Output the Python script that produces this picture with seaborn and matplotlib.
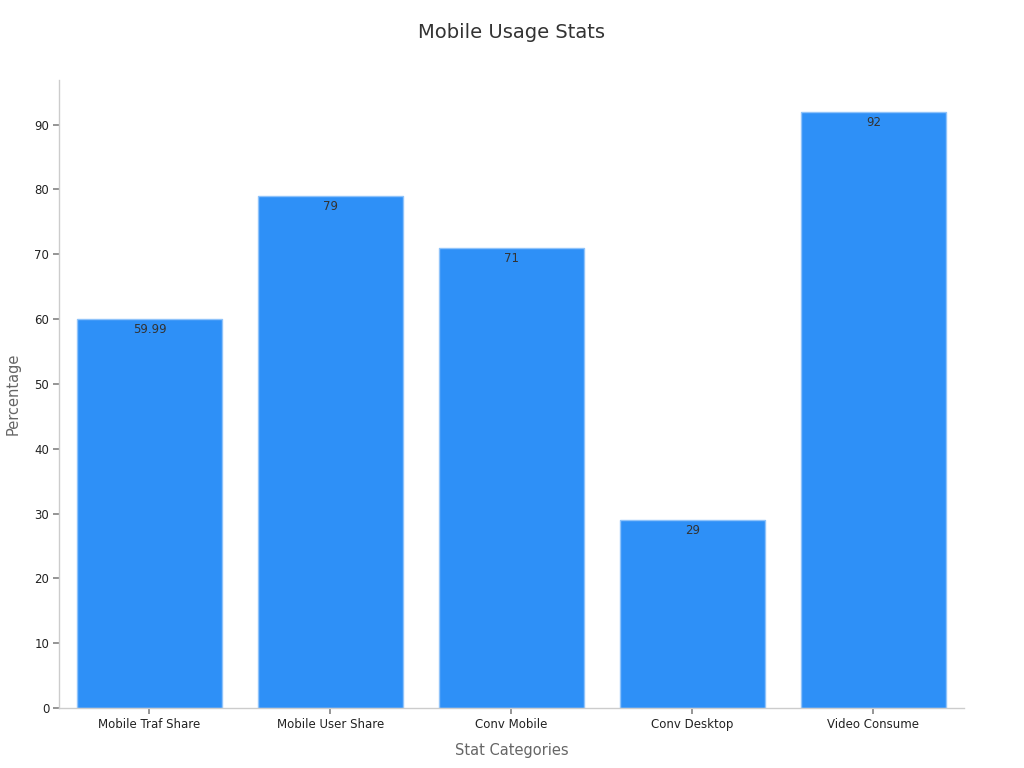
import matplotlib
matplotlib.use("Agg")
import matplotlib.pyplot as plt
import seaborn as sns
import pandas as pd

categories = ["Mobile Traf Share", "Mobile User Share", "Conv Mobile", "Conv Desktop", "Video Consume"]
values = [59.99, 79, 71, 29, 92]
value_labels = ["59.99", "79", "71", "29", "92"]

df = pd.DataFrame({"Stat Categories": categories, "Percentage": values})

sns.set_theme(style="white")
plt.rcParams['font.family'] = ['DejaVu Sans']

fig = plt.figure(figsize=(10.24, 7.68), dpi=100)
ax = fig.add_axes([0.0576, 0.078, 0.8838, 0.818])

sns.barplot(data=df, x="Stat Categories", y="Percentage", color="#2e90f7",
            saturation=1, width=0.8, edgecolor="#8fc3fa", linewidth=1, ax=ax)

for i, (v, lab) in enumerate(zip(values, value_labels)):
    ax.text(i, v - 0.6, lab, ha="center", va="top", fontsize=8.5, color="#333333")

ax.set_xlim(-0.5, 4.5)
ax.set_ylim(0, 96.9)
ax.set_yticks(range(0, 100, 10))
ax.set_title("Mobile Usage Stats", fontsize=14, color="#333333", pad=30)
ax.set_xlabel("Stat Categories", fontsize=10.5, color="#666666", labelpad=9)
ax.set_ylabel("Percentage", fontsize=10.5, color="#666666", labelpad=10)
ax.tick_params(axis="both", labelsize=8.5, colors="#222222", length=4, color="#888888",
               bottom=True, left=True, pad=3)
sns.despine(ax=ax)
for s in ["left", "bottom"]:
    ax.spines[s].set_color("#cccccc")
    ax.spines[s].set_linewidth(1)

fig.savefig("out.png", dpi=100)
